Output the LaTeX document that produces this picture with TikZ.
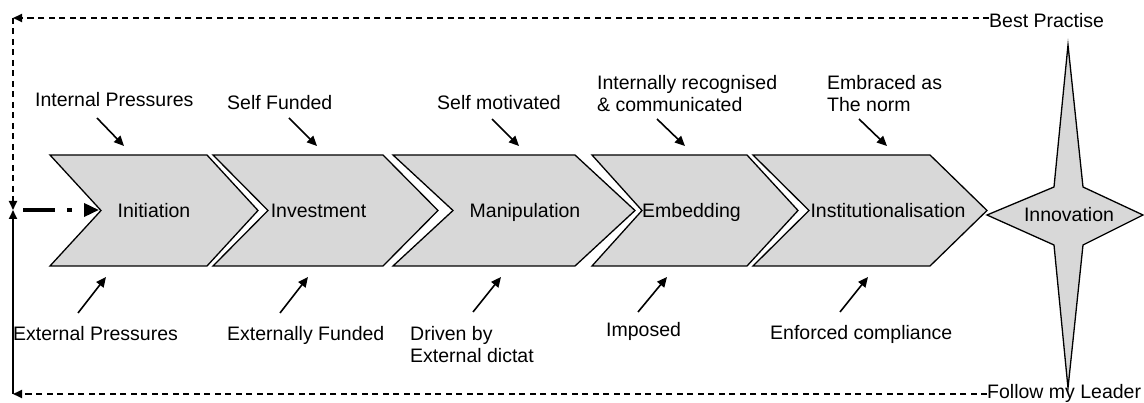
\documentclass[tikz,border=0pt]{standalone}
\usepackage{fontspec}
\setmainfont{Liberation Sans}
\usetikzlibrary{arrows.meta}
\definecolor{stagefill}{RGB}{216,216,216}
\begin{document}
\begin{tikzpicture}[x=1pt,y=-1pt,
  stage/.style={draw=black,line width=1.3pt,fill=stagefill,line join=miter},
  lbl/.style={inner sep=0pt,font=\fontsize{19.5}{22.5}\selectfont},
  stagelbl/.style={lbl,anchor=base},
  cue/.style={line width=1.6pt,-{Triangle[length=10pt,width=9pt]}},
  loopline/.style={dash pattern=on 6pt off 4.5pt,line width=1.8pt},
  loophead/.style={-{Triangle[length=9pt,width=8pt]}}]
\useasboundingbox (0,0) rectangle (1144,403);
\fill[white] (0,0) rectangle (1144,403);

% the five stages as chevrons
\draw[stage] (50,155) -- (207,155) -- (258,210.5) -- (207,266) -- (50,266) -- (101,210.5) -- cycle;
\draw[stage] (213,155) -- (383,155) -- (438,210.5) -- (383,266) -- (213,266) -- (268,210.5) -- cycle;
\draw[stage] (393,155) -- (575,155) -- (635,210.5) -- (575,266) -- (393,266) -- (453,210.5) -- cycle;
\draw[stage] (592,155) -- (747,155) -- (798,210.5) -- (747,266) -- (592,266) -- (642,210.5) -- cycle;
\draw[stage] (753,155) -- (930,155) -- (987,210.5) -- (930,266) -- (753,266) -- (809,210.5) -- cycle;

% four-pointed star
\draw[stage] (987,215) -- (1054,187) -- (1068,45) -- (1083,187) -- (1143,215)
  -- (1083,245) -- (1068,388) -- (1054,245) -- cycle;

% stage labels
\node[stagelbl] (ini) at (154,218) {Initiation};
\node[stagelbl] (inv) at (318.5,218) {Investment};
\node[stagelbl] (man) at (525,218) {Manipulation};
\node[stagelbl] (emb) at (691.5,218) {Embedding};
\node[stagelbl] (ins) at (888,218) {Institutionalisation};
\node[stagelbl] (inn) at (1069,222) {Innovation};

% internal drivers
\node[lbl,anchor=base west] (c1) at (35,107) {Internal Pressures};
\node[lbl,anchor=base west] (c2) at (227,110) {Self Funded};
\node[lbl,anchor=base west] (c3) at (437,110) {Self motivated};
\node[lbl,anchor=north west,align=left] (c4) at (597,75) {Internally recognised\\\& communicated};
\node[lbl,anchor=north west,align=left] (c5) at (827,75) {Embraced as\\The norm};

% external drivers
\node[lbl,anchor=base west] (b1) at (13,341) {External Pressures};
\node[lbl,anchor=base west] (b2) at (227,341) {Externally Funded};
\node[lbl,anchor=north west,align=left] (b3) at (410,326) {Driven by\\External dictat};
\node[lbl,anchor=base west] (b4) at (606,337) {Imposed};
\node[lbl,anchor=base west] (b5) at (770,340) {Enforced compliance};

% arrow ends
\coordinate (c1t) at (97,118);  \coordinate (c1h) at (124,146);
\coordinate (c2t) at (289,118); \coordinate (c2h) at (317,146);
\coordinate (c3t) at (492,119); \coordinate (c3h) at (519,146);
\coordinate (c4t) at (657,119); \coordinate (c4h) at (685,146);
\coordinate (c5t) at (859,119); \coordinate (c5h) at (887,146);
\coordinate (b1t) at (78,313);  \coordinate (b1h) at (106,277);
\coordinate (b2t) at (280,313); \coordinate (b2h) at (308,277);
\coordinate (b3t) at (473,312); \coordinate (b3h) at (501,277);
\coordinate (b4t) at (638,312); \coordinate (b4h) at (667,277);
\coordinate (b5t) at (840,312); \coordinate (b5h) at (868,277);
\foreach \k in {c1,c2,c3,c4,c5,b1,b2,b3,b4,b5}
  \draw[cue] (\k t) -- (\k h);

% feedback loop
\node[lbl,anchor=base west] (best) at (989,28) {Best Practise};
\node[lbl,anchor=base west] (follow) at (987,399) {Follow my Leader};
\coordinate (tl) at (13,18);
\coordinate (bl) at (13,394);
\coordinate (junc) at (13,210);
\coordinate (entry) at (99,210);
\draw[loopline,loophead] (best.west |- tl) -- (tl);
\draw[loopline,loophead] (tl) -- (junc);
\draw[loopline,loophead] (follow.west |- bl) -- (bl);
\draw[line width=1.8pt,loophead] (bl) -- (junc);
\draw[line width=3.5pt,dash pattern=on 32pt off 12pt on 5pt off 12pt,
  -{Triangle[length=15pt,width=13pt]},shorten <=10pt] (junc) -- (entry);
\end{tikzpicture}
\end{document}
